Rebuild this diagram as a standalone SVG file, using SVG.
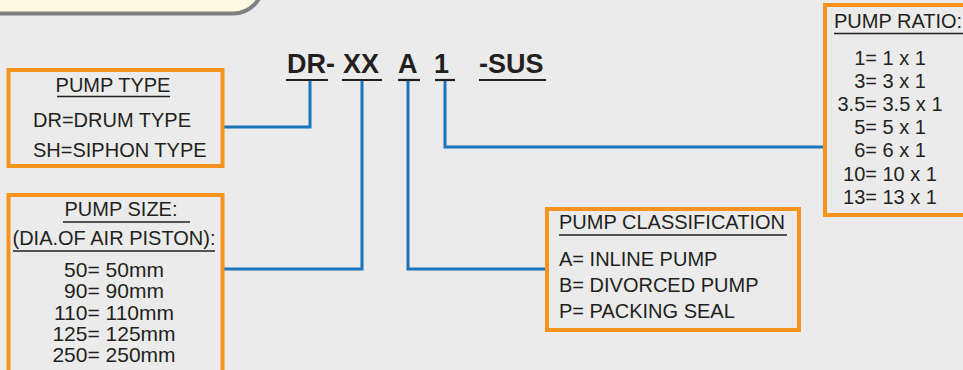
<svg xmlns="http://www.w3.org/2000/svg" width="963" height="370" viewBox="0 0 963 370">
<style>
.t{font-family:"Liberation Sans",Arial,sans-serif;font-size:20px;fill:#231f20}
.s{font-size:21px}
.c{text-anchor:middle}
.h{font-family:"Liberation Sans",Arial,sans-serif;font-size:27px;font-weight:bold;fill:#231f20}
.box{fill:none;stroke:#f7941d;stroke-width:4}
.ul{stroke:#231f20;stroke-width:1.6}
.hul{stroke:#231f20;stroke-width:2.2}
.con{fill:none;stroke:#1b75bc;stroke-width:3}
</style>
<rect width="963" height="370" fill="#ebebeb"/>
<rect id="banner" x="-40" y="-60" width="303" height="73.5" rx="30" fill="#fef9e1" stroke="#808080" stroke-width="4"/>
<g id="code">
<text class="h" x="287" y="73">DR-</text>
<text class="h" x="343" y="73">XX</text>
<text class="h" x="398" y="73">A</text>
<text class="h" x="434" y="73">1</text>
<text class="h" x="479" y="73">-SUS</text>
<line class="hul" x1="286" y1="80" x2="328" y2="80"/>
<line class="hul" x1="342" y1="80" x2="382" y2="80"/>
<line class="hul" x1="398" y1="80" x2="420" y2="80"/>
<line class="hul" x1="435" y1="80" x2="455" y2="80"/>
<line class="hul" x1="479" y1="80" x2="546" y2="80"/>
</g>
<g id="connectors">
<path class="con" d="M224,127 H310 V81"/>
<path class="con" d="M224,269 H362 V81"/>
<path class="con" d="M408,81 V269 H546"/>
<path class="con" d="M445,81 V147 H823"/>
</g>
<g id="pump-type">
<rect class="box" x="8.5" y="70" width="214" height="96"/>
<text class="t c" x="113" y="92">PUMP TYPE</text>
<line class="ul" x1="57" y1="96.5" x2="170" y2="96.5"/>
<text class="t" x="33" y="127">DR=DRUM TYPE</text>
<text class="t" x="33" y="157">SH=SIPHON TYPE</text>
</g>
<g id="pump-size">
<rect class="box" x="8.5" y="195" width="214" height="185"/>
<text class="t c" x="121" y="216">PUMP SIZE:</text>
<line class="ul" x1="63" y1="222" x2="190" y2="222"/>
<text class="t c" x="114" y="245">(DIA.OF AIR PISTON):</text>
<line class="ul" x1="13" y1="251" x2="215" y2="251"/>
<text class="t s c" x="114" y="277">50= 50mm</text>
<text class="t s c" x="114" y="298">90= 90mm</text>
<text class="t s c" x="114" y="320">110= 110mm</text>
<text class="t s c" x="114" y="341">125= 125mm</text>
<text class="t s c" x="114" y="362">250= 250mm</text>
</g>
<g id="pump-classification">
<rect class="box" x="547" y="209" width="252" height="121"/>
<text class="t" x="559" y="229">PUMP CLASSIFICATION</text>
<line class="ul" x1="559" y1="235" x2="787" y2="235"/>
<text class="t" x="559" y="266">A= INLINE PUMP</text>
<text class="t" x="559" y="292">B= DIVORCED PUMP</text>
<text class="t" x="559" y="318">P= PACKING SEAL</text>
</g>
<g id="pump-ratio">
<rect class="box" x="825" y="5" width="160" height="210"/>
<text class="t" x="834" y="28">PUMP RATIO:</text>
<line class="ul" x1="834" y1="33.5" x2="963" y2="33.5"/>
<text class="t c" x="890" y="65">1= 1 x 1</text>
<text class="t c" x="890" y="88">3= 3 x 1</text>
<text class="t c" x="890" y="111">3.5= 3.5 x 1</text>
<text class="t c" x="890" y="134">5= 5 x 1</text>
<text class="t c" x="890" y="157">6= 6 x 1</text>
<text class="t c" x="890" y="181">10= 10 x 1</text>
<text class="t c" x="890" y="204">13= 13 x 1</text>
</g>
</svg>
